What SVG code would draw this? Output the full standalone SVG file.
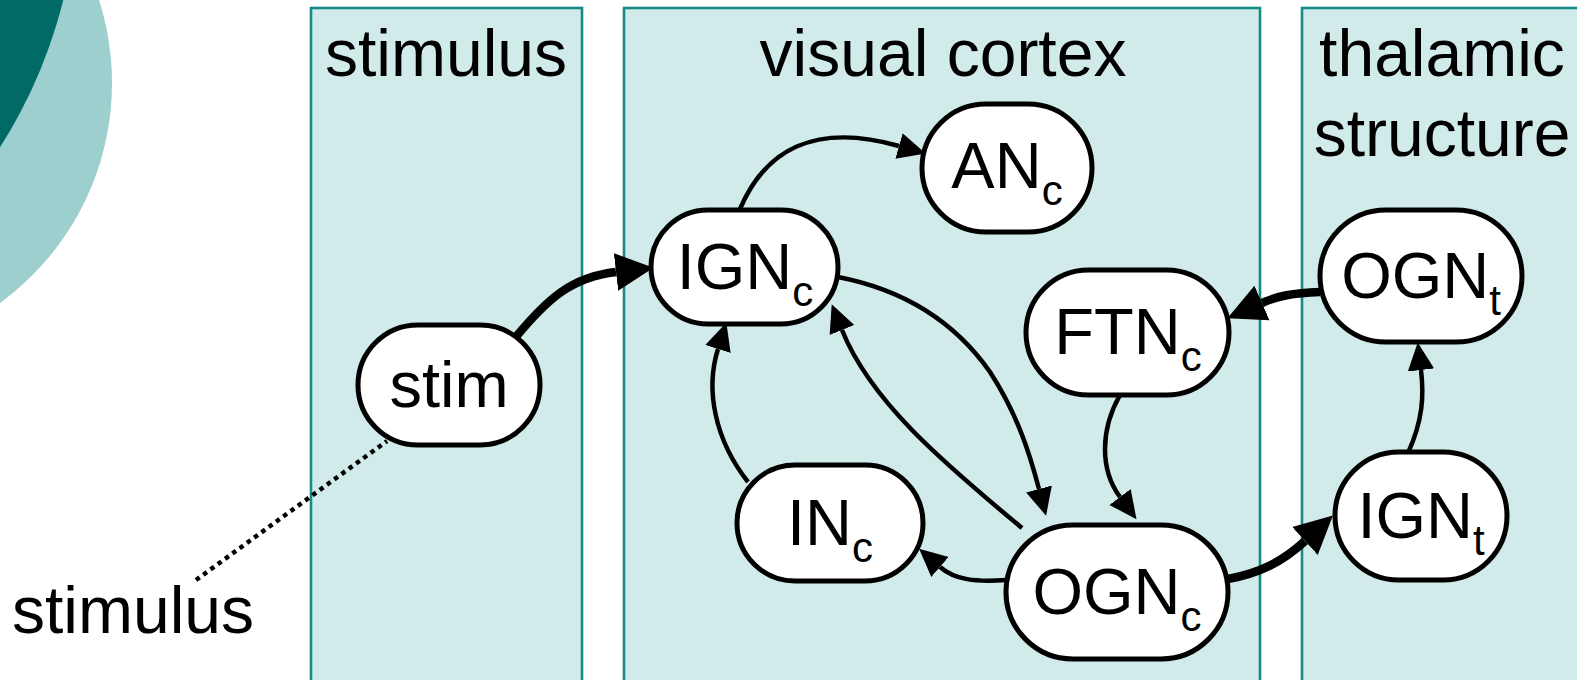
<svg xmlns="http://www.w3.org/2000/svg" width="1577" height="680" viewBox="0 0 1577 680">
<style>
.panel{fill:#D1EBEA;stroke:#178B88;stroke-width:2.6}
.title{font-family:"Liberation Sans",Arial,sans-serif;font-size:66px;fill:#000;text-anchor:middle}
.node rect{fill:#fff;stroke:#000;stroke-width:5}
.node text{font-family:"Liberation Sans",Arial,sans-serif;font-size:65px;fill:#000;text-anchor:middle}
.sub{font-size:42px}
.thin{fill:none;stroke:#000;stroke-width:4.5;marker-end:url(#ah)}
.thick{fill:none;stroke:#000;stroke-width:8.5;marker-end:url(#ahb)}
.dot{fill:none;stroke:#000;stroke-width:4.5;stroke-dasharray:4.5 4.5}
</style>
<defs>
<marker id="ah" markerUnits="userSpaceOnUse" markerWidth="30" markerHeight="30" viewBox="0 -13 26 26" refX="0" refY="0" orient="auto"><path d="M0,-11.5 L24,0 L0,11.5 Z" fill="#000"/></marker>
<marker id="ahb" markerUnits="userSpaceOnUse" markerWidth="40" markerHeight="40" viewBox="0 -18 36 36" refX="0" refY="0" orient="auto"><path d="M0,-17 L34,0 L0,17 Z" fill="#000"/></marker>
</defs>
<g id="background">
<circle cx="-160" cy="83" r="272" fill="#9DCFCF"/>
<circle cx="-419" cy="-120" r="497" fill="#026A66"/>
</g>
<g id="panels">
<rect class="panel" x="311" y="8" width="271" height="690"/>
<rect class="panel" x="624" y="8" width="636" height="690"/>
<rect class="panel" x="1302" y="8" width="290" height="690"/>
<text class="title" x="446" y="76">stimulus</text>
<text class="title" x="943" y="76">visual cortex</text>
<text class="title" x="1442" y="76">thalamic</text>
<text class="title" x="1442" y="156">structure</text>
</g>
<g id="connectors">
<path class="dot" d="M196,580 L387,441"/>
<path class="thick" d="M515,338 C548,298 572,277 616,272"/>
<path class="thin" d="M740,209 C765,150 815,122 899,146"/>
<path class="thin" d="M838,277 C905,290 955,322 990,372 C1018,415 1030,455 1039,489"/>
<path class="thin" d="M1022,528 C940,460 870,400 842,330"/>
<path class="thin" d="M748,482 C715,440 705,390 718,349"/>
<path class="thin" d="M1006,580 C975,582 955,580 940,567"/>
<path class="thin" d="M1120,395 C1100,430 1100,470 1120,497"/>
<path class="thick" d="M1228,579 C1260,573 1282,562 1305,541"/>
<path class="thick" d="M1320,292 C1292,293 1278,296 1262,303"/>
<path class="thin" d="M1408,453 C1423,420 1424,395 1421,370"/>
</g>
<g id="stim" class="node"><rect x="358" y="325" width="182" height="120" rx="60"/><text x="449" y="407">stim</text></g>
<g id="IGNc" class="node"><rect x="651" y="210" width="187" height="114" rx="57"/><text x="745" y="289">IGN<tspan class="sub" dy="17">c</tspan></text></g>
<g id="ANc" class="node"><rect x="922" y="104" width="170" height="128" rx="64"/><text x="1007" y="188">AN<tspan class="sub" dy="17">c</tspan></text></g>
<g id="FTNc" class="node"><rect x="1026" y="270" width="203" height="125" rx="62.5"/><text x="1128" y="354">FTN<tspan class="sub" dy="17">c</tspan></text></g>
<g id="OGNt" class="node"><rect x="1320" y="210" width="202" height="132" rx="66"/><text x="1421" y="298">OGN<tspan class="sub" dy="17">t</tspan></text></g>
<g id="INc" class="node"><rect x="737" y="465" width="186" height="116" rx="58"/><text x="830" y="545">IN<tspan class="sub" dy="17">c</tspan></text></g>
<g id="OGNc" class="node"><rect x="1006" y="525" width="222" height="134" rx="67"/><text x="1117" y="614">OGN<tspan class="sub" dy="17">c</tspan></text></g>
<g id="IGNt" class="node"><rect x="1335" y="452" width="172" height="128" rx="64"/><text x="1421" y="538">IGN<tspan class="sub" dy="17">t</tspan></text></g>
<g id="label"><text class="title" x="133" y="633">stimulus</text></g>
</svg>
